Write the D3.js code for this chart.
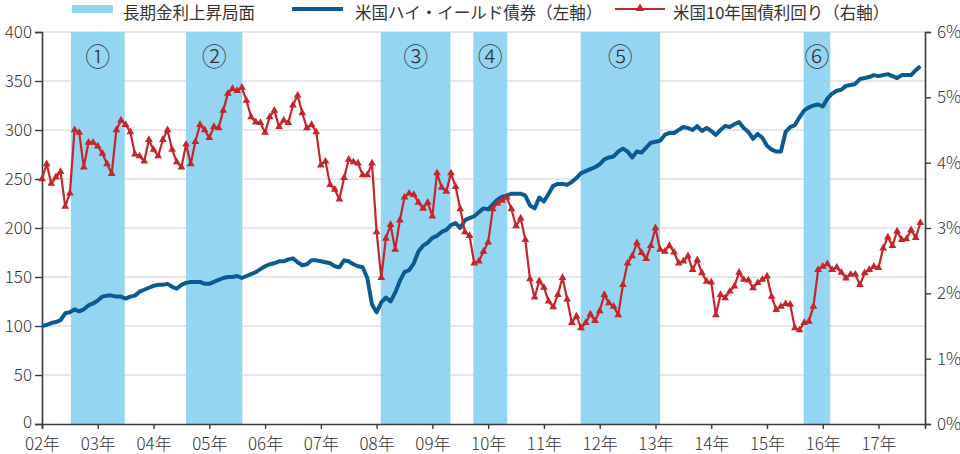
<!DOCTYPE html>
<html><head><meta charset="utf-8">
<script src="https://cdn.jsdelivr.net/npm/d3@7"></script>
<style>
html,body{margin:0;padding:0;background:#fff;}
svg{display:block;}
text{font-family:"Noto Sans CJK JP","Noto Sans",sans-serif;fill:#333;}
</style></head><body>
<svg id="c" width="960" height="454"></svg>
<script>
// ---- data (monthly, Jan 2002 = index 0) ----
const yearLabels = ["02年","03年","04年","05年","06年","07年","08年","09年","10年","11年","12年","13年","14年","15年","16年","17年"];
const highYield = [
100,101,103,104,106,113,114,117,115,117,121,123,126,130,131,131,130,130,128,130,
131,135,137,139,141,142,142,143,140,138,142,144,145,145,145,143,143,145,147,149,
150,150,151,149,151,153,155,158,161,163,164,166,166,168,169,165,162,163,167,167,
166,165,164,161,160,167,166,163,161,160,149,122,114,124,129,125,134,146,155,157,
164,176,182,185,190,192,196,198,203,205,200,208,210,212,216,220,219,224,229,232,
233,235,235,235,233,223,220,231,227,235,243,245,245,244,247,251,256,258,260,262,
265,270,272,273,278,281,278,272,278,277,282,287,288,289,295,297,297,300,303,302,
300,304,299,302,299,295,300,304,303,306,308,302,298,291,296,292,284,280,278,278,
298,303,305,313,320,323,325,326,324,332,337,340,341,345,346,347,352,353,354,356,
355,356,357,355,353,356,356,356,361,365];
const treasury10y = [
3.75,3.98,3.68,3.78,3.86,3.33,3.53,4.50,4.46,3.93,4.31,4.31,4.25,4.14,3.98,3.83,4.50,4.65,4.58,4.47,
4.13,4.10,4.02,4.35,4.20,4.10,4.35,4.50,4.20,4.01,3.93,4.28,3.98,4.32,4.58,4.50,4.38,4.55,4.53,4.80,
5.06,5.13,5.10,5.15,4.95,4.70,4.62,4.61,4.46,4.70,4.80,4.55,4.65,4.61,4.88,5.03,4.76,4.53,4.58,4.47,
3.96,4.02,3.66,3.59,3.44,3.77,4.05,4.01,3.99,3.81,3.81,3.99,2.94,2.24,2.84,3.05,2.67,3.12,3.47,3.53,
3.51,3.39,3.30,3.39,3.18,3.84,3.62,3.56,3.84,3.63,3.29,2.94,2.88,2.46,2.49,2.64,2.78,3.29,3.38,3.42,
3.47,3.29,3.03,3.15,2.82,2.22,1.94,2.19,2.09,1.88,1.79,1.98,2.24,1.91,1.55,1.65,1.47,1.55,1.68,1.58,
1.73,1.98,1.85,1.80,1.67,2.13,2.46,2.57,2.77,2.62,2.53,2.73,3.00,2.67,2.64,2.73,2.63,2.46,2.49,2.57,
2.36,2.51,2.31,2.18,2.17,1.67,1.98,1.93,2.03,2.11,2.32,2.21,2.20,2.08,2.16,2.21,2.26,1.95,1.75,1.80,
1.84,1.83,1.47,1.44,1.55,1.57,1.80,2.36,2.41,2.45,2.36,2.40,2.32,2.23,2.29,2.29,2.13,2.31,2.36,2.41,
2.39,2.69,2.86,2.73,2.95,2.82,2.83,2.97,2.85,3.08];
// rising-rate periods (month index start, end)
const bandStarts = [6.2, 31.0, 72.9, 92.8, 115.9, 163.9];
const bandEnds   = [17.8, 43.1, 87.9, 100.1, 133.0, 169.6];
const bandLabels = ["①","②","③","④","⑤","⑥"];
const leftTicks = [0,50,100,150,200,250,300,350,400];
const rightTicks = [0,1,2,3,4,5,6];
const legendLabels = ["長期金利上昇局面","米国ハイ・イールド債券（左軸）","米国10年国債利回り（右軸）"];

// ---- layout ----
const svg = d3.select("#c");
const L = 42, R = 925, T = 32, B = 424;
const x = d3.scaleLinear().domain([0, 190]).range([L, R]);
const yL = d3.scaleLinear().domain([0, 400]).range([B, T]);
const yR = d3.scaleLinear().domain([0, 6]).range([B, T]);
const BAND = "#94d5f2", BLUE = "#0b5b92", RED = "#c4262b", AX = "#3a3a3a";

// gridlines
svg.append("g").selectAll("line").data(leftTicks.filter(d=>d>0)).join("line")
  .attr("x1", L).attr("x2", R).attr("y1", d=>yL(d)).attr("y2", d=>yL(d))
  .attr("stroke", "#cfcfcf").attr("stroke-width", 1.2);

// bands
const bands = bandStarts.map((s,i)=>({s, e:bandEnds[i], label:bandLabels[i]}));
svg.append("g").selectAll("rect").data(bands).join("rect")
  .attr("x", d=>x(d.s)).attr("width", d=>x(d.e)-x(d.s))
  .attr("y", T).attr("height", B-T).attr("fill", BAND);
svg.append("g").selectAll("text").data(bands).join("text")
  .attr("x", d=>(x(d.s)+x(d.e))/2).attr("y", 55)
  .attr("text-anchor","middle").attr("dominant-baseline","central")
  .attr("font-size", 25).attr("font-weight", 300).text(d=>d.label);

// axes
const xAxis = d3.axisBottom(x).tickValues(yearLabels.map((d,i)=>i*12))
  .tickFormat((d,i)=>yearLabels[i]).tickSize(5).tickPadding(7);
const gx = svg.append("g").attr("transform", `translate(0,${B})`).call(xAxis);
const gl = svg.append("g").attr("transform", `translate(${L},0)`)
  .call(d3.axisLeft(yL).tickValues(leftTicks).tickSize(7).tickPadding(3));
const gr = svg.append("g").attr("transform", `translate(${R},0)`)
  .call(d3.axisRight(yR).tickValues(rightTicks).tickFormat(d=>d+"%").tickSize(6).tickPadding(6));
[gx,gl,gr].forEach(g=>{
  g.select(".domain").attr("stroke", AX).attr("stroke-width", 1.6);
  g.selectAll(".tick line").attr("stroke", AX).attr("stroke-width", 1.4);
  g.selectAll(".tick text").attr("font-size", 17).attr("font-weight", 300)
    .attr("fill", "#333").style("font-family", '"Noto Sans CJK JP",sans-serif');
});
gx.selectAll(".tick text").attr("dy", "0.85em");
gl.selectAll(".tick text").filter(d=>d===0).attr("dy", "0.2em");

// high yield line
const hyLine = d3.line().x((d,i)=>x(i)).y(d=>yL(d));
svg.append("path").datum(highYield).attr("d", hyLine)
  .attr("fill","none").attr("stroke", BLUE).attr("stroke-width", 4).attr("stroke-linejoin","round");

// treasury line with triangle markers
const tLine = d3.line().x((d,i)=>x(i)).y(d=>yR(d));
svg.append("path").datum(treasury10y).attr("d", tLine)
  .attr("fill","none").attr("stroke", RED).attr("stroke-width", 2.2).attr("stroke-linejoin","round");
const tri = d3.symbol().type(d3.symbolTriangle).size(26);
svg.append("g").selectAll("path").data(treasury10y).join("path")
  .attr("d", tri).attr("transform", (d,i)=>`translate(${x(i)},${yR(d)})`).attr("fill", RED);

// legend
const lg = svg.append("g");
lg.append("rect").attr("x",72).attr("y",5).attr("width",41).attr("height",8).attr("fill",BAND);
lg.append("line").attr("x1",292).attr("x2",343).attr("y1",9).attr("y2",9).attr("stroke",BLUE).attr("stroke-width",4);
lg.append("line").attr("x1",615).attr("x2",665).attr("y1",9).attr("y2",9).attr("stroke",RED).attr("stroke-width",2.2);
lg.append("path").attr("d", d3.symbol().type(d3.symbolTriangle).size(34)).attr("transform","translate(640,8.5)").attr("fill",RED);
lg.selectAll("text.lgt").data(legendLabels).join("text").attr("class","lgt")
  .attr("x",(d,i)=>[123,355,673][i]).attr("y",18.5)
  .attr("font-size",16.5).text(d=>d);
</script>
</body></html>
